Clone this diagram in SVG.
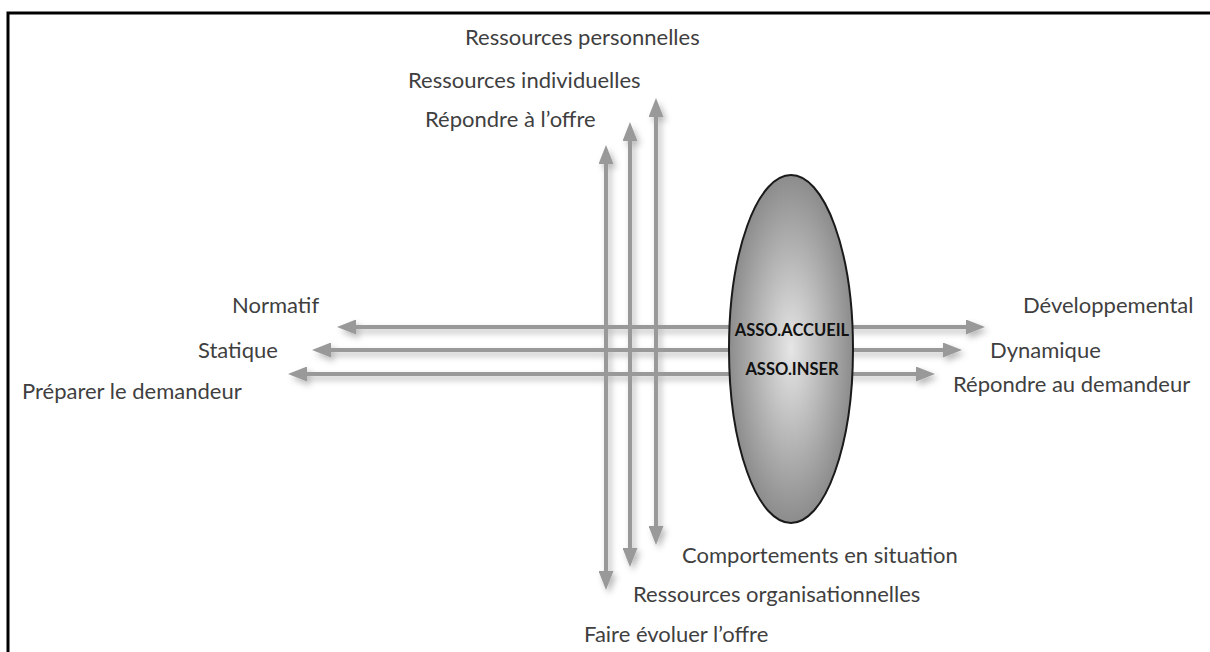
<svg xmlns="http://www.w3.org/2000/svg" width="1210" height="652" viewBox="0 0 1210 652">
<defs>
<style>
.lbl{font-family:Lato,"Open Sans","Liberation Sans",sans-serif;font-size:22px;fill:#3f3f3f}
.in{font-family:Lato,"Liberation Sans",sans-serif;font-size:16.5px;font-weight:bold;fill:#111;text-anchor:middle}
.ar{stroke:#999;stroke-width:4;fill:none;marker-start:url(#ah);marker-end:url(#ah)}
</style>
<marker id="ah" viewBox="0 0 19 15" refX="1" refY="7.5" markerWidth="19" markerHeight="15" markerUnits="userSpaceOnUse" orient="auto-start-reverse">
<path d="M0,0 L19,7.5 L0,15 z" fill="#999"/>
</marker>
<filter id="sh" x="-10%" y="-10%" width="120%" height="120%">
<feDropShadow dx="3" dy="4" stdDeviation="3" flood-color="#000" flood-opacity="0.28"/>
</filter>
<radialGradient id="eg" cx="50%" cy="50%" r="50%">
<stop offset="0" stop-color="#e6e6e6"/>
<stop offset="1" stop-color="#8c8c8c"/>
</radialGradient>
</defs>
<rect width="1210" height="652" fill="#fff"/>
<path d="M8,652 V13 H1210" fill="none" stroke="#000" stroke-width="3"/>
<g id="connectors" filter="url(#sh)">
<line class="ar" x1="355" y1="327" x2="967" y2="327"/>
<line class="ar" x1="330" y1="350" x2="944" y2="350"/>
<line class="ar" x1="306" y1="374" x2="917" y2="374"/>
<line class="ar" x1="606" y1="163" x2="606" y2="572"/>
<line class="ar" x1="630" y1="140" x2="630" y2="549"/>
<line class="ar" x1="656" y1="116" x2="656" y2="527"/>
</g>
<g id="ellipse-node">
<ellipse cx="791" cy="349" rx="62" ry="174" fill="url(#eg)" stroke="#1a1a1a" stroke-width="2"/>
<text class="in" x="792" y="336">ASSO.ACCUEIL</text>
<text class="in" x="792" y="375">ASSO.INSER</text>
</g>
<g id="label-ressources-personnelles"><text class="lbl" x="465" y="45">Ressources personnelles</text></g>
<g id="label-ressources-individuelles"><text class="lbl" x="408" y="88">Ressources individuelles</text></g>
<g id="label-repondre-offre"><text class="lbl" x="425" y="127">Répondre à l’offre</text></g>
<g id="label-normatif"><text class="lbl" x="232" y="313">Normatif</text></g>
<g id="label-statique"><text class="lbl" x="198" y="358">Statique</text></g>
<g id="label-preparer"><text class="lbl" x="22" y="399">Préparer le demandeur</text></g>
<g id="label-developpemental"><text class="lbl" x="1023" y="313">Développemental</text></g>
<g id="label-dynamique"><text class="lbl" x="990" y="358">Dynamique</text></g>
<g id="label-repondre-demandeur"><text class="lbl" x="953" y="392">Répondre au demandeur</text></g>
<g id="label-comportements"><text class="lbl" x="682" y="563">Comportements en situation</text></g>
<g id="label-ressources-org"><text class="lbl" x="633" y="602">Ressources organisationnelles</text></g>
<g id="label-faire-evoluer"><text class="lbl" x="584" y="642">Faire évoluer l’offre</text></g>
</svg>
